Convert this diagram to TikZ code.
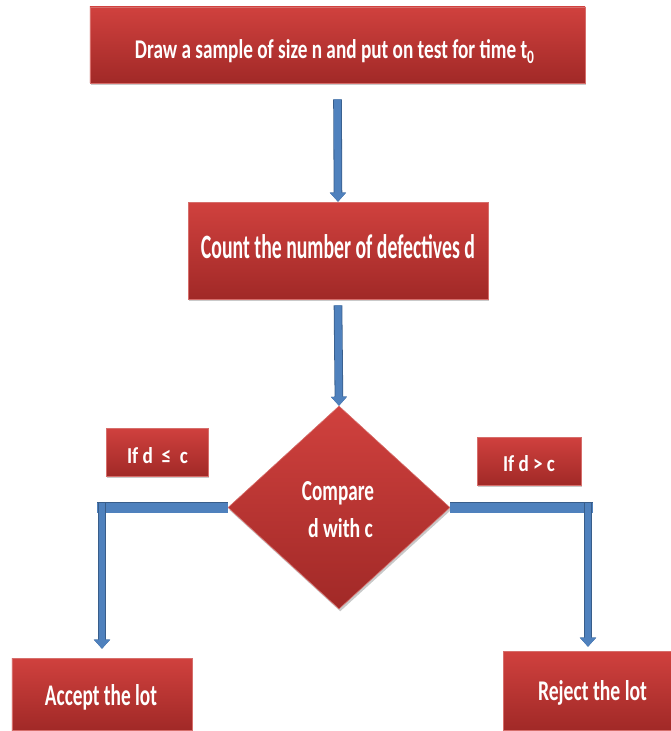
\documentclass[tikz,border=0pt]{standalone}
\usepackage{fontspec}
\usepackage{graphicx}
\setmainfont{Carlito}
\usetikzlibrary{arrows.meta,shapes.geometric,shadows}

\definecolor{redtop}{RGB}{208,65,62}
\definecolor{redbot}{RGB}{161,41,39}
\definecolor{redline}{RGB}{214,110,107}
\definecolor{connfill}{RGB}{79,129,189}
\definecolor{connedge}{RGB}{56,93,138}

\tikzset{
  redshade/.style={shading=axis, top color=redtop, bottom color=redbot,
    draw=redline, line width=0.6bp,
    drop shadow={shadow xshift=1.2bp, shadow yshift=-2.4bp, opacity=0.3, fill=black!70}},
  redbox/.style={redshade, rectangle, inner sep=0pt, minimum width=#1},
  decision/.style={redshade, diamond, inner sep=0pt, aspect=1},
  lbl/.style={anchor=base, inner sep=0pt, text=white, font=\bfseries},
  conn/.style={draw=connfill, line width=#1,
    preaction={draw=connedge, line width=#1+1.6bp}},
  tip/.style={-{Triangle[width=16bp,length=9bp,line width=0.5bp]}}
}
% text fitted to a given width and ascender height
\newcommand\fitted[3]{\resizebox{#1bp}{#2bp}{#3}}

\begin{document}
\begin{tikzpicture}[x=1bp,y=-1bp]
\useasboundingbox (0,0) rectangle (671,731);

% process boxes
\node[redbox=495bp, minimum height=76bp] (sample) at (337.5,45) {};
\node[redbox=300bp, minimum height=97bp] (count) at (338,250.5) {};
\node[decision, minimum width=222bp, minimum height=203bp] (cmp) at (339,507.5) {};
\node[redbox=102bp, minimum height=48bp] (le) at (157,452) {};
\node[redbox=104bp, minimum height=48bp] (gt) at (529,461) {};
\node[redbox=180bp, minimum height=72bp] (accept) at (102,694) {};
\node[redbox=168bp, minimum height=79bp] (reject) at (587,690.5) {};

% labels
\node[lbl] (tsample) at (335,59) {\fitted{400}{19}{Draw a sample of size n and put on test for time t\textsubscript{0}}};
\node[lbl] (tcount) at (338,258) {\fitted{274}{24}{Count the number of defectives d}};
\node[lbl] (tle) at (157.5,463) {\fitted{61}{16}{If d\ \ ≤\ \ c}};
\node[lbl] (tgt) at (529,471) {\fitted{52}{16}{If d > c}};
\node[lbl] (tcmp) at (338,500) {\fitted{72}{19}{Compare}};
\node[lbl] (twith) at (340.5,537) {\fitted{65}{19}{d with c}};
\node[lbl] (tacc) at (101,705) {\fitted{112}{21}{Accept the lot}};
\node[lbl] (trej) at (592.5,700) {\fitted{109}{20}{Reject the lot}};

% corner points of the two elbow connectors
\coordinate (lc) at (102,507.5);
\coordinate (rc) at (588,507.5);
\coordinate (accin) at ([yshift=9bp]accept.north);
\coordinate (rejin) at ([yshift=4bp]reject.north);

% straight connectors
\draw[conn=7bp, tip] ([yshift=-16bp]sample.south) -- (count.north);
\draw[conn=7bp, tip] ([yshift=-6bp]count.south) -- (cmp.north);

% elbow connectors
\draw[conn=10bp] (cmp.west) -- ([xshift=-5bp]lc);
\draw[conn=6.5bp, tip] ([yshift=5bp]lc) -- (lc |- accin);
\draw[conn=10bp] (cmp.east) -- ([xshift=5bp]rc);
\draw[conn=6.5bp, tip] ([yshift=5bp]rc) -- (rc |- rejin);
\end{tikzpicture}
\end{document}
